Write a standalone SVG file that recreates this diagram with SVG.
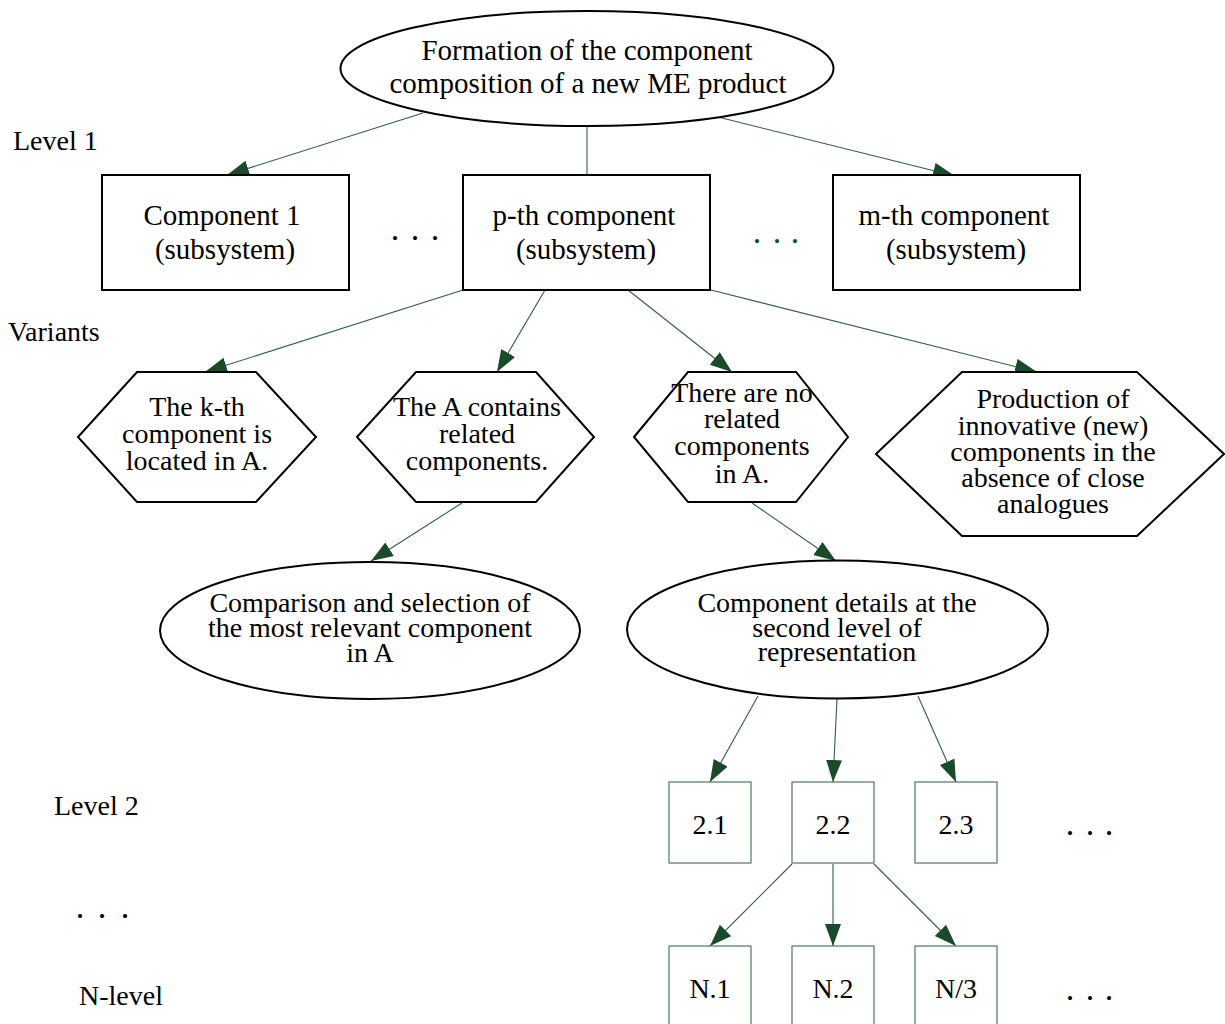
<svg xmlns="http://www.w3.org/2000/svg" width="1225" height="1024" viewBox="0 0 1225 1024">
<style>
text{font-family:"Liberation Serif","Times New Roman",serif;font-size:28px;fill:#000}
.c{text-anchor:middle}
.b{font-size:29px}
.d{font-size:34px}
.n{fill:#fff;stroke:#000;stroke-width:2}
.s{fill:#fff;stroke:#4d7a5c;stroke-width:1.2}
.e{fill:none;stroke:#2f5f40;stroke-width:1.1;marker-end:url(#ah)}
</style>
<defs>
<marker id="ah" markerUnits="userSpaceOnUse" markerWidth="24" markerHeight="18" refX="22" refY="8" orient="auto">
<path d="M0,0 L22,8 L0,16 z" fill="#1a4a2a"/>
</marker>
</defs>
<rect width="1225" height="1024" fill="#fff"/>

<g id="labels">
<text x="13" y="150">Level 1</text>
<text x="8" y="341">Variants</text>
<text x="54" y="815">Level 2</text>
<text class="d" x="75.8 97.8 120.8" y="918">...</text>
<text x="79" y="1005">N-level</text>
<text class="d" x="390.8 410.8 430.8" y="240">...</text>
<text class="d" x="752.8 772.8 790.8" y="243" style="fill:#1a4a2a">...</text>
<text class="d" x="1065.8 1085.8 1104.8" y="835">...</text>
<text class="d" x="1065.8 1085.8 1104.8" y="1000">...</text>
</g>

<g id="edges">
<line class="e" x1="423" y1="113" x2="227" y2="175"/>
<line x1="587" y1="126" x2="587" y2="175" stroke="#6d8f7a" stroke-width="1.5"/>
<line class="e" x1="718" y1="117" x2="955" y2="176"/>
<line class="e" x1="463" y1="290" x2="205" y2="372"/>
<line class="e" x1="545" y1="290" x2="497" y2="372"/>
<line class="e" x1="628" y1="290" x2="732" y2="372"/>
<line class="e" x1="711" y1="290" x2="1037" y2="372"/>
<line class="e" x1="462" y1="503" x2="371" y2="561"/>
<line class="e" x1="752" y1="503" x2="836" y2="561"/>
<line class="e" x1="758" y1="696" x2="710" y2="782"/>
<line class="e" x1="837" y1="699" x2="833" y2="782"/>
<line class="e" x1="918" y1="696" x2="956" y2="782"/>
<line class="e" x1="792" y1="864" x2="710" y2="946"/>
<line class="e" x1="833" y1="864" x2="833" y2="946"/>
<line class="e" x1="874" y1="864" x2="956" y2="946"/>
</g>

<g id="root">
<ellipse class="n" cx="587" cy="68.5" rx="246.5" ry="57.5"/>
<text class="c b" x="587" y="60">Formation of the component</text>
<text class="c b" x="588" y="93">composition of a new ME product</text>
</g>

<g id="comp1">
<rect class="n" x="102" y="175" width="247" height="115"/>
<text class="c b" x="222" y="225">Component 1</text>
<text class="c b" x="225" y="259">(subsystem)</text>
</g>
<g id="compP">
<rect class="n" x="463" y="175" width="247" height="115"/>
<text class="c b" x="584" y="225">p-th component</text>
<text class="c b" x="586" y="259">(subsystem)</text>
</g>
<g id="compM">
<rect class="n" x="833" y="175" width="247" height="115"/>
<text class="c b" x="954" y="225">m-th component</text>
<text class="c b" x="956" y="259">(subsystem)</text>
</g>

<g id="var1">
<polygon class="n" points="78,437 137,372 256,372 316,437 256,502 137,502"/>
<text class="c" x="197" y="416">The k-th</text>
<text class="c" x="197" y="443">component is</text>
<text class="c" x="197" y="470">located in A.</text>
</g>
<g id="var2">
<polygon class="n" points="357,437 416,372 536,372 594,437 536,502 416,502"/>
<text class="c" x="477" y="416">The A contains</text>
<text class="c" x="477" y="443">related</text>
<text class="c" x="477" y="470">components.</text>
</g>
<g id="var3">
<polygon class="n" points="634,437 688,372 796,372 848,437 796,502 688,502"/>
<text class="c" x="742" y="402">There are no</text>
<text class="c" x="742" y="428">related</text>
<text class="c" x="742" y="455">components</text>
<text class="c" x="742" y="483">in A.</text>
</g>
<g id="var4">
<polygon class="n" points="876,454 962,372 1137,372 1224,454 1137,536 962,536"/>
<text class="c" x="1053" y="408">Production of</text>
<text class="c" x="1053" y="435">innovative (new)</text>
<text class="c" x="1053" y="461">components in the</text>
<text class="c" x="1053" y="487">absence of close</text>
<text class="c" x="1053" y="513">analogues</text>
</g>

<g id="compare">
<ellipse class="n" cx="370" cy="630.5" rx="210" ry="68.5"/>
<text class="c" x="370" y="612">Comparison and selection of</text>
<text class="c" x="370" y="637">the most relevant component</text>
<text class="c" x="370" y="662">in A</text>
</g>
<g id="details">
<ellipse class="n" cx="837.5" cy="629.5" rx="210.5" ry="69"/>
<text class="c" x="837" y="612">Component details at the</text>
<text class="c" x="837" y="637">second level of</text>
<text class="c" x="837" y="661">representation</text>
</g>

<g id="n21"><rect class="s" x="669" y="782" width="82" height="81"/><text class="c" x="710" y="834">2.1</text></g>
<g id="n22"><rect class="s" x="792" y="782" width="82" height="81"/><text class="c" x="833" y="834">2.2</text></g>
<g id="n23"><rect class="s" x="915" y="782" width="82" height="81"/><text class="c" x="956" y="834">2.3</text></g>
<g id="nN1"><rect class="s" x="669" y="946" width="82" height="82"/><text class="c" x="710" y="998">N.1</text></g>
<g id="nN2"><rect class="s" x="792" y="946" width="82" height="82"/><text class="c" x="833" y="998">N.2</text></g>
<g id="nN3"><rect class="s" x="915" y="946" width="82" height="82"/><text class="c" x="956" y="998">N/3</text></g>
</svg>
